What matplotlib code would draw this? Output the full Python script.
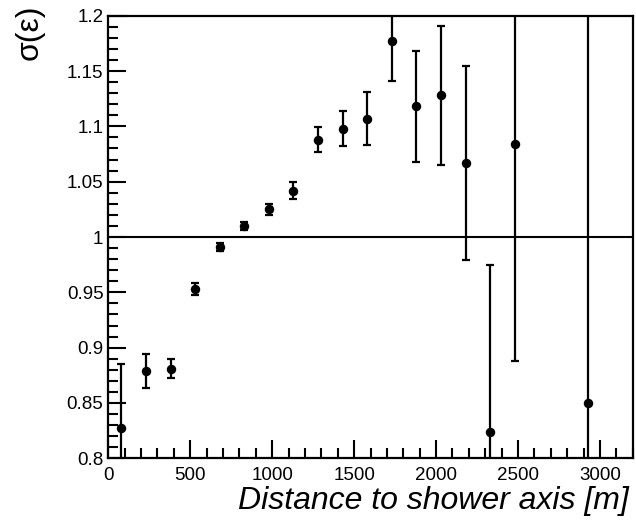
import numpy as np
import matplotlib
matplotlib.use('Agg')
import matplotlib.pyplot as plt
from matplotlib.ticker import MultipleLocator

plt.rcParams['font.family'] = ['Liberation Sans', 'DejaVu Sans']

# === Data ===
distance = [80, 230, 380, 530, 680, 830, 980, 1130, 1280, 1430, 1580,
            1730, 1880, 2030, 2180, 2330, 2480, 2930]
sigma_eps = [0.827, 0.879, 0.881, 0.953, 0.991, 1.010, 1.025, 1.042, 1.088,
             1.098, 1.107, 1.177, 1.118, 1.128, 1.067, 0.8235, 1.084, 0.850]
sigma_err = [0.058, 0.015, 0.0085, 0.005, 0.004, 0.004, 0.005, 0.0075, 0.0115,
             0.016, 0.024, 0.036, 0.050, 0.063, 0.0875, 0.151, 0.196, 0.5]

# === Plotting ===
fig = plt.figure(figsize=(6.36, 5.21), dpi=100)
ax = fig.add_axes([0.1703, 0.1203, 0.8245, 0.8496])

ax.errorbar(distance, sigma_eps, yerr=sigma_err, fmt='o', color='black',
            markersize=5.8, elinewidth=1.6, capsize=3.2, capthick=1.6)
ax.axhline(1.0, color='black', lw=1.5)

ax.set_xlim(0, 3200)
ax.set_ylim(0.8, 1.2)
ax.xaxis.set_major_locator(MultipleLocator(500))
ax.xaxis.set_minor_locator(MultipleLocator(100))
ax.yaxis.set_major_locator(MultipleLocator(0.05))
ax.yaxis.set_minor_locator(MultipleLocator(0.01))
ax.yaxis.set_major_formatter(plt.FuncFormatter(lambda v, p: f'{v:.2f}'.rstrip('0').rstrip('.')))

ax.tick_params(which='both', direction='in', top=False, right=False,
               labelsize=13.5, width=1.5)
ax.tick_params(which='major', length=13)
ax.tick_params(which='minor', length=7)
ax.tick_params(axis='x', pad=6)
for s in ax.spines.values():
    s.set_linewidth(1.6)

ax.set_xlabel('Distance to shower axis [m]', fontsize=23, style='italic',
              loc='right')
ax.xaxis.set_label_coords(0.993, -0.062)
fig.text(30 / 636, 1 - 4 / 521, 'σ(ε)', rotation=90, ha='center', va='top',
         fontsize=23)

fig.savefig('out.png', dpi=100)
